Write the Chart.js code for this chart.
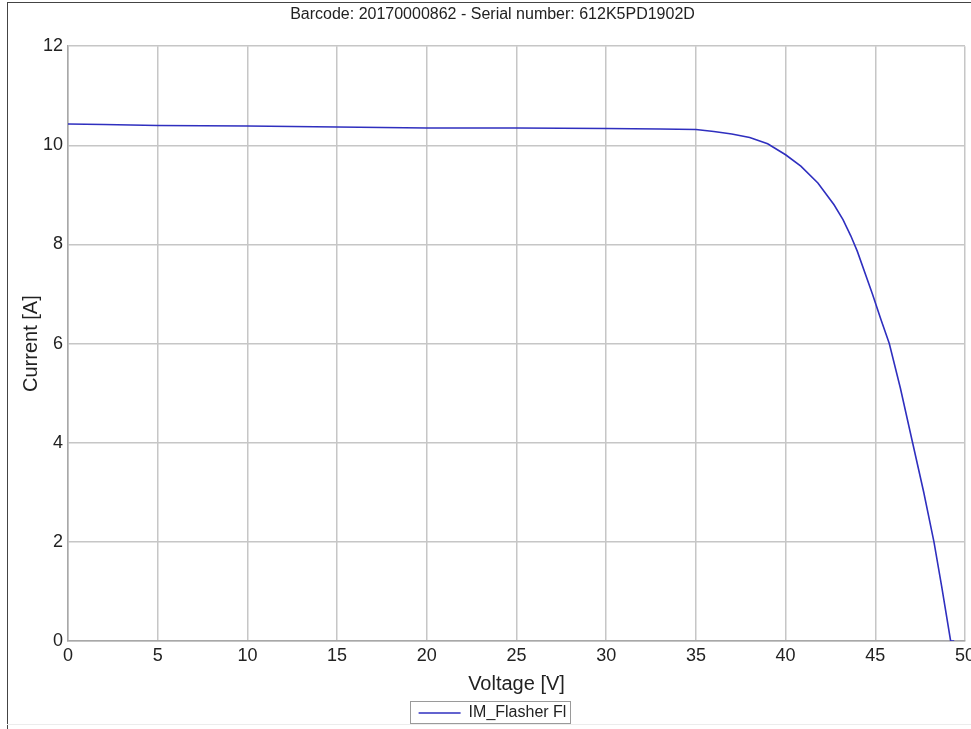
<!DOCTYPE html>
<html lang="en">
<head>
<meta charset="UTF-8">
<title>IV curve</title>
<script src="https://cdn.jsdelivr.net/npm/chart.js"></script>
<style>
    html, body {
        margin: 0;
        padding: 0;
        background: #fff;
        overflow: hidden;
    }
    #page {
        position: relative;
        width: 971px;
        height: 729px;
        overflow: hidden;
    }
    #chart-box {
        position: absolute;
        left: 0;
        top: 0;
        width: 979px;
        height: 729px;
    }
    /* frame of the original screenshot */
    .frame-top { position: absolute; left: 7px; top: 2px; width: 980px; height: 1px; background: #444; }
    .frame-left { position: absolute; left: 7px; top: 2px; width: 1px; height: 727px; background: #444; }
    .frame-bottom { position: absolute; left: 7px; top: 724px; width: 980px; height: 1px; background: #ececec; }
</style>
</head>
<body>
<div id="page">
    <div id="chart-box"><canvas id="ivChart"></canvas></div>
    <div class="frame-top"></div>
    <div class="frame-left"></div>
    <div class="frame-bottom"></div>
</div>
<script>
    // values
    const titleText = 'Barcode: 20170000862 - Serial number: 612K5PD1902D';
    const seriesName = 'IM_Flasher Fl';
    const voltage = [0, 2, 5, 10, 15, 20, 25, 30, 33, 35, 36, 37, 38, 39, 40, 40.85, 41.8, 42.7, 43.2, 43.64,
        44.0, 44.85, 45.3, 45.78, 46.4, 47.08, 47.7, 48.27, 48.7, 49.2, 49.4];
    const current = [10.43, 10.42, 10.40, 10.39, 10.37, 10.35, 10.35, 10.34, 10.33, 10.32, 10.28, 10.23, 10.16, 10.03, 9.81, 9.58, 9.24, 8.80, 8.50, 8.17,
        7.86, 6.99, 6.5, 6.0, 5.1, 4.0, 3.0, 2.0, 1.1, 0.0, 0.0];
    const xTicks = [0, 5, 10, 15, 20, 25, 30, 35, 40, 45, 50];
    const yTicks = [0, 2, 4, 6, 8, 10, 12];

    const FONT = '"Liberation Sans", Arial, sans-serif';
    const gridColor = '#c6c6c6';
    const lineColor = '#2f2fbf';

    const points = voltage.map((v, i) => ({x: v, y: current[i]}));

    // box round the legend, like the original
    const legendFrame = {
        id: 'legendFrame',
        afterDraw(chart) {
            const boxes = chart.legend && chart.legend.legendHitBoxes;
            if (!boxes || !boxes.length) return;
            const b = boxes[0];
            const ctx = chart.ctx;
            ctx.save();
            ctx.strokeStyle = '#9a9a9a';
            ctx.lineWidth = 1;
            ctx.strokeRect(Math.round(b.left) - 8.5, Math.round(b.top) - 3.5, Math.round(b.width) + 12, Math.round(b.height) + 6);
            ctx.restore();
        }
    };

    new Chart(document.getElementById('ivChart'), {
        type: 'scatter',
        data: {
            datasets: [{
                label: seriesName,
                data: points,
                showLine: true,
                borderColor: lineColor,
                backgroundColor: lineColor,
                borderWidth: 1.6,
                pointRadius: 0,
                tension: 0
            }]
        },
        options: {
            responsive: true,
            maintainAspectRatio: false,
            animation: false,
            layout: {padding: {left: 6, right: 0, top: 0, bottom: -2}},
            plugins: {
                tooltip: {enabled: false},
                title: {
                    display: true,
                    text: titleText,
                    color: '#222',
                    font: {family: FONT, size: 16, weight: 'normal'},
                    padding: {top: 5, bottom: 22}
                },
                legend: {
                    position: 'bottom',
                    labels: {
                        usePointStyle: true,
                        pointStyle: 'line',
                        pointStyleWidth: 42,
                        color: '#222',
                        font: {family: FONT, size: 16},
                        padding: 4
                    }
                }
            },
            scales: {
                x: {
                    type: 'linear',
                    min: 0,
                    max: 50,
                    afterBuildTicks: s => { s.ticks = xTicks.map(v => ({value: v})); },
                    afterFit: s => { s.height = 60; },
                    ticks: {color: '#222', font: {family: FONT, size: 18}, padding: 4, maxRotation: 0},
                    grid: {color: gridColor, lineWidth: 1.5, drawTicks: false},
                    border: {color: '#a8a8a8', width: 1.5},
                    title: {display: true, text: 'Voltage [V]', color: '#222', font: {family: FONT, size: 20}, padding: {top: 0, bottom: 5}}
                },
                y: {
                    min: 0,
                    max: 12,
                    afterBuildTicks: s => { s.ticks = yTicks.map(v => ({value: v})); },
                    afterFit: s => { s.width = 62; },
                    ticks: {color: '#222', font: {family: FONT, size: 18}, padding: 5},
                    grid: {color: gridColor, lineWidth: 1.5, drawTicks: false},
                    border: {color: '#a8a8a8', width: 1.5},
                    title: {display: true, text: 'Current [A]', color: '#222', font: {family: FONT, size: 20}, padding: {top: 13, bottom: 0}}
                }
            }
        },
        plugins: [legendFrame]
    });
</script>
</body>
</html>
